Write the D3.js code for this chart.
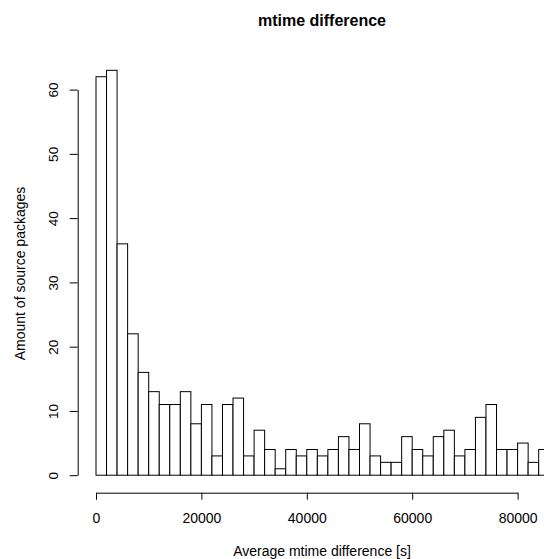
<!DOCTYPE html>
<html>
<head>
<meta charset="utf-8">
<script src="https://cdn.jsdelivr.net/npm/d3@7"></script>
<style>
  html, body { margin: 0; padding: 0; background: #fff; }
  svg { display: block; font-family: "Liberation Sans", Arial, Helvetica, sans-serif; }
</style>
</head>
<body>
<svg id="hist"></svg>
<script>
// --- Data ---
const binWidth = 2000;
const counts = [62, 63, 36, 22, 16, 13, 11, 11, 13, 8, 11, 3, 11, 12, 3,
                7, 4, 1, 4, 3, 4, 3, 4, 6, 4, 8, 3, 2, 2, 6, 4, 3, 6, 7,
                3, 4, 9, 11, 4, 4, 5, 2, 4];
const xTicks = [0, 20000, 40000, 60000, 80000];
const yTicks = [0, 10, 20, 30, 40, 50, 60];

const title = "mtime difference";
const xLabel = "Average mtime difference [s]";
const yLabel = "Amount of source packages";

// --- 1. Setup ---
const W = 544, H = 559;
const svg = d3.select("#hist")
    .attr("width", W)
    .attr("height", H)
    .attr("viewBox", `0 0 ${W} ${H}`);

// --- 2. Scales ---
const x = d3.scaleLinear().domain([0, 80000]).range([96, 517.6]);
const y = d3.scaleLinear().domain([0, 60]).range([475.2, 89.6]);

const bins = counts.map((c, i) => ({ x0: i * binWidth, x1: (i + 1) * binWidth, count: c }));

// --- 3. Bars ---
svg.append("g")
    .selectAll("rect")
    .data(bins)
    .join("rect")
    .attr("x", d => x(d.x0))
    .attr("y", d => y(d.count))
    .attr("width", d => x(d.x1) - x(d.x0))
    .attr("height", d => y(0) - y(d.count))
    .attr("fill", "#fff")
    .attr("stroke", "#000")
    .attr("stroke-width", 1);

// --- 4. Axes ---
const xAxis = svg.append("g")
    .attr("transform", "translate(0,492.7)")
    .call(d3.axisBottom(x).tickValues(xTicks).tickSize(7).tickSizeOuter(0)
        .tickFormat(d3.format("d")));
xAxis.selectAll("text")
    .attr("y", 30.5)
    .attr("dy", 0)
    .style("font-size", "14px")
    .attr("fill", "#000");

const yAxis = svg.append("g")
    .attr("transform", "translate(77.7,0)")
    .call(d3.axisLeft(y).tickValues(yTicks).tickSize(8).tickSizeOuter(0));
yAxis.selectAll("text")
    .attr("x", 0)
    .attr("dy", 0)
    .attr("text-anchor", "middle")
    .attr("transform", "translate(-20,0) rotate(-90)")
    .style("font-size", "13.5px")
    .attr("fill", "#000");

svg.selectAll(".domain, .tick line").attr("stroke", "#000");

// --- 5. Labels ---
svg.append("text")
    .attr("x", 322)
    .attr("y", 26)
    .attr("text-anchor", "middle")
    .style("font-size", "16px")
    .style("font-weight", "bold")
    .text(title);

svg.append("text")
    .attr("x", 322)
    .attr("y", 556)
    .attr("text-anchor", "middle")
    .style("font-size", "14px")
    .text(xLabel);

svg.append("text")
    .attr("transform", "translate(25,273.5) rotate(-90)")
    .attr("text-anchor", "middle")
    .style("font-size", "14px")
    .text(yLabel);
</script>
</body>
</html>
